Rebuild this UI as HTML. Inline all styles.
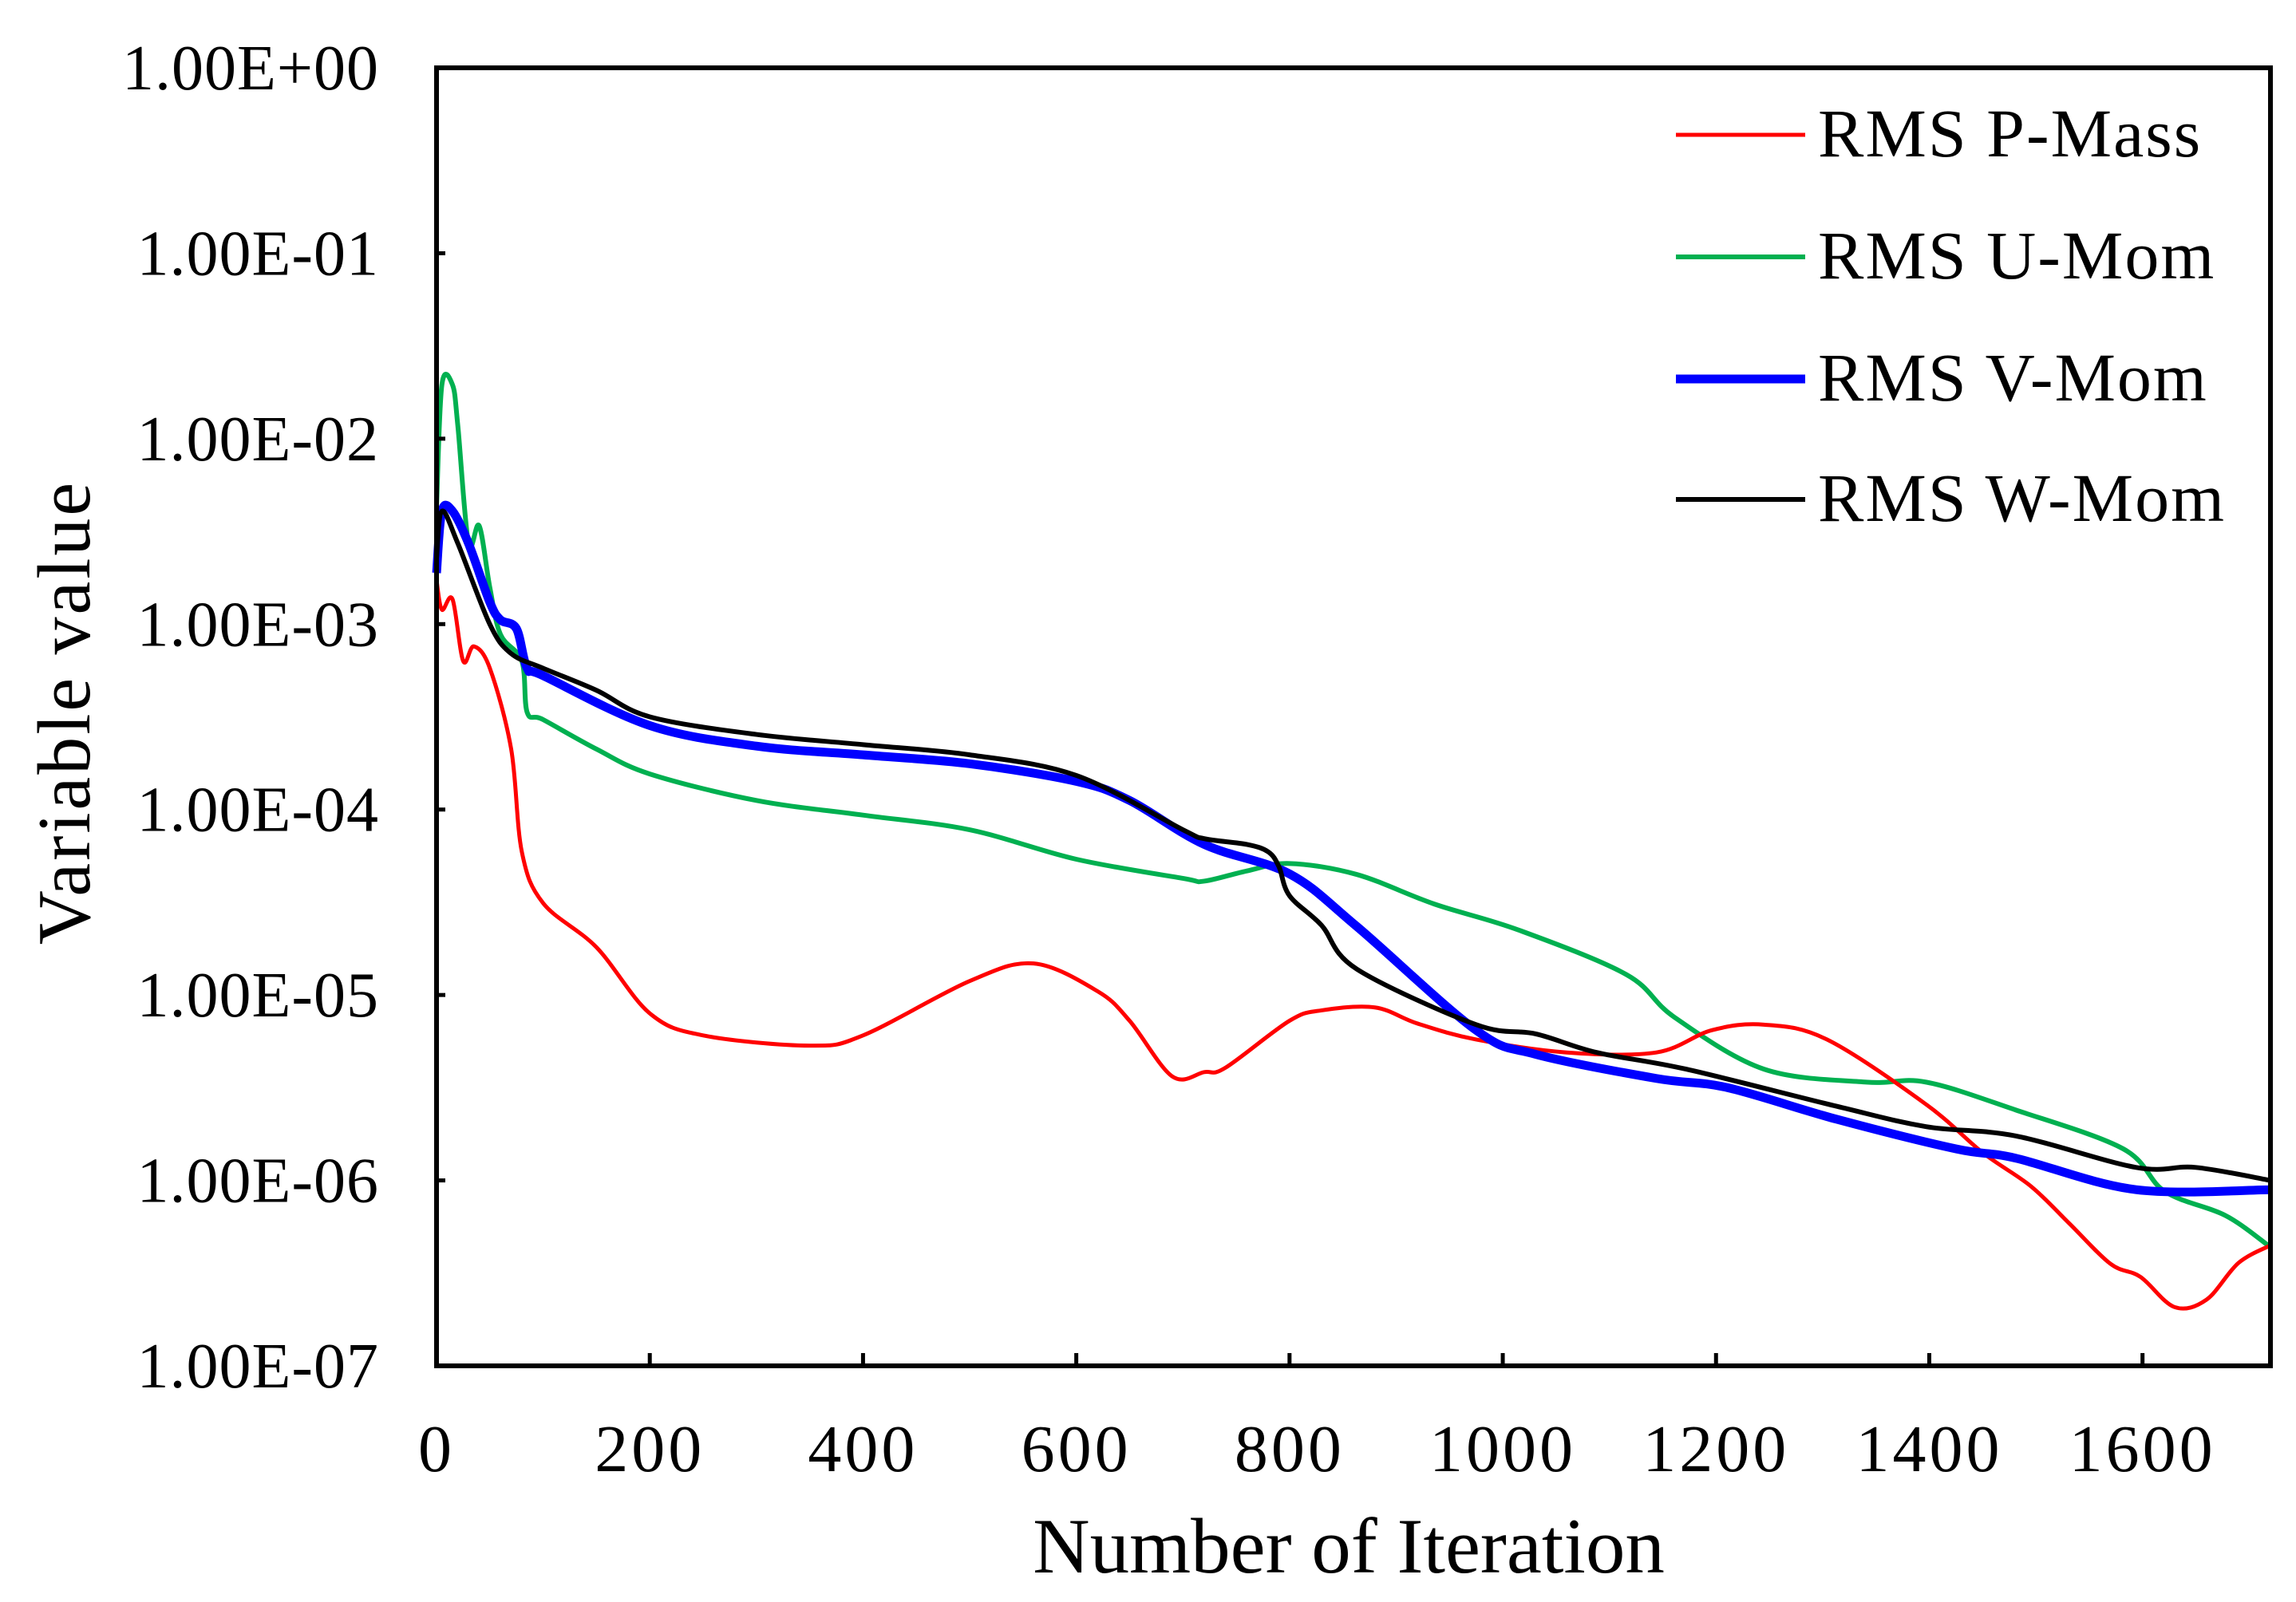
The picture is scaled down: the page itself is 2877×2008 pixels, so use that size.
<!DOCTYPE html>
<html><head><meta charset="utf-8"><style>
html,body{margin:0;padding:0;background:#fff;}
svg{display:block;}
text{font-family:"Liberation Serif",serif;fill:#000;}
</style></head><body>
<svg id="chart" width="2877" height="2008" viewBox="0 0 2877 2008" xmlns="http://www.w3.org/2000/svg">
<g id="series"></g>
<g id="axes"></g>
<g id="legend"></g>
</svg>
<script>
const xTicks = [0,200,400,600,800,1000,1200,1400,1600];
const yTickExp = [0,-1,-2,-3,-4,-5,-6,-7];
const yTickLabels = ["1.00E+00","1.00E-01","1.00E-02","1.00E-03","1.00E-04","1.00E-05","1.00E-06","1.00E-07"];
const seriesNames = ["RMS P-Mass","RMS U-Mom","RMS V-Mom","RMS W-Mom"];
const pMassX = [0,5,15,25,35,50,70,80,100,150,200,250,350,400,500,560,620,650,690,720,740,800,830,880,920,975,1060,1144,1196,1245,1304,1397,1450,1495,1531,1570,1598,1630,1660,1690,1720];
const pMassLog = [-2.763,-2.922,-2.866,-3.199,-3.120,-3.238,-3.674,-4.228,-4.505,-4.743,-5.099,-5.218,-5.273,-5.218,-4.925,-4.830,-4.980,-5.139,-5.439,-5.416,-5.392,-5.139,-5.083,-5.067,-5.154,-5.24,-5.31,-5.31,-5.19,-5.16,-5.24,-5.59,-5.85,-6.03,-6.23,-6.45,-6.52,-6.683,-6.643,-6.445,-6.350];
const uMomX = [0,5,15,20,30,40,50,60,80,85,100,150,200,300,400,500,600,700,720,760,800,863,936,1015,1116,1161,1245,1341,1397,1481,1582,1621,1678,1720];
const uMomLog = [-2.367,-1.710,-1.710,-1.932,-2.565,-2.470,-2.803,-3.056,-3.199,-3.476,-3.515,-3.674,-3.808,-3.951,-4.030,-4.109,-4.268,-4.371,-4.386,-4.331,-4.291,-4.35,-4.51,-4.65,-4.89,-5.12,-5.40,-5.47,-5.47,-5.62,-5.83,-6.06,-6.19,-6.36];
const vMomX = [0,5,15,30,50,60,75,85,100,200,300,400,500,600,650,720,800,863,975,1031,1144,1211,1313,1425,1481,1594,1720];
const vMomLog = [-2.724,-2.391,-2.391,-2.565,-2.882,-2.977,-3.025,-3.238,-3.278,-3.547,-3.658,-3.705,-3.753,-3.848,-3.951,-4.188,-4.347,-4.63,-5.19,-5.32,-5.45,-5.50,-5.67,-5.83,-5.88,-6.05,-6.05];
const wMomX = [0,5,20,50,70,100,150,200,300,400,500,600,700,720,760,780,790,800,830,863,975,1031,1088,1172,1313,1397,1481,1594,1650,1720];
const wMomLog = [-2.645,-2.391,-2.565,-3.001,-3.159,-3.238,-3.357,-3.500,-3.595,-3.650,-3.705,-3.816,-4.109,-4.157,-4.188,-4.228,-4.307,-4.465,-4.624,-4.86,-5.16,-5.21,-5.31,-5.40,-5.60,-5.71,-5.76,-5.93,-5.93,-6.0];

const L=547,R=2845,T=85,B=1712,XMAX=1720,YMIN=-7,YMAX=0;
const sx=v=>L+(v/XMAX)*(R-L);
const sy=e=>T+(YMAX-e)/(YMAX-YMIN)*(B-T);
const NS="http://www.w3.org/2000/svg";
function mk(tag,attrs,parent){const el=document.createElementNS(NS,tag);for(const k in attrs)el.setAttribute(k,attrs[k]);parent.appendChild(el);return el;}
const axes=document.getElementById('axes'),series=document.getElementById('series'),legend=document.getElementById('legend');

function pathD(xs,ys){
  const p=xs.map((x,i)=>[sx(x),sy(ys[i])]);
  let d=`M${p[0][0]},${p[0][1]}`;
  for(let i=0;i<p.length-1;i++){
    const p0=p[Math.max(0,i-1)],p1=p[i],p2=p[i+1],p3=p[Math.min(p.length-1,i+2)];
    const c1=[p1[0]+(p2[0]-p0[0])/6,p1[1]+(p2[1]-p0[1])/6];
    const c2=[p2[0]-(p3[0]-p1[0])/6,p2[1]-(p3[1]-p1[1])/6];
    d+=` C${c1[0]},${c1[1]} ${c2[0]},${c2[1]} ${p2[0]},${p2[1]}`;
  }
  return d;
}
const defs=[[pMassX,pMassLog,'#ff0000',5,'p-mass'],[uMomX,uMomLog,'#00b050',6,'u-mom'],[vMomX,vMomLog,'#0000ff',11,'v-mom'],[wMomX,wMomLog,'#000000',6,'w-mom']];
const order=[1,0,2,3];
order.forEach(i=>{const s=defs[i];
  const el=mk('path',{d:pathD(s[0],s[1]),fill:'none',stroke:s[2],'stroke-width':s[3],'stroke-linejoin':'round'},series);
  
  
});

const frame=mk('rect',{x:L,y:T,width:R-L,height:B-T,fill:'none',stroke:'#000','stroke-width':6},axes);


yTickExp.forEach((e,i)=>{
  const tk=mk('line',{x1:L,x2:L+11,y1:sy(e),y2:sy(e),stroke:'#000','stroke-width':5},axes);
  
  
  const t=mk('text',{x:475,y:sy(e)+27,'text-anchor':'end','font-size':80,'letter-spacing':1},axes);
  t.textContent=yTickLabels[i];
  
  
});
xTicks.forEach(v=>{
  const tk=mk('line',{x1:sx(v),x2:sx(v),y1:B,y2:B-16,stroke:'#000','stroke-width':5},axes);
  
  
  const t=mk('text',{x:sx(v),y:1844,'text-anchor':'middle','font-size':84,'letter-spacing':4},axes);
  t.textContent=String(v);
  
  
});
const xt=mk('text',{x:1690,y:1971,'text-anchor':'middle','font-size':99},axes);
xt.textContent='Number of Iteration';


const yt=mk('text',{x:0,y:0,'text-anchor':'middle','font-size':94,transform:'translate(112,893) rotate(-90)','letter-spacing':3},axes);
yt.textContent='Variable value';



const legY=[169,322,475,626];
seriesNames.forEach((n,i)=>{const s=defs[i];
  const g=mk('g',{},legend);
  
  
  mk('line',{x1:2100,x2:2262,y1:legY[i],y2:legY[i],stroke:s[2],'stroke-width':s[3]},g);
  const t=mk('text',{x:2278,y:legY[i]+27,'font-size':86,'letter-spacing':2},g);
  t.textContent=n;
});
</script>
</body></html>
